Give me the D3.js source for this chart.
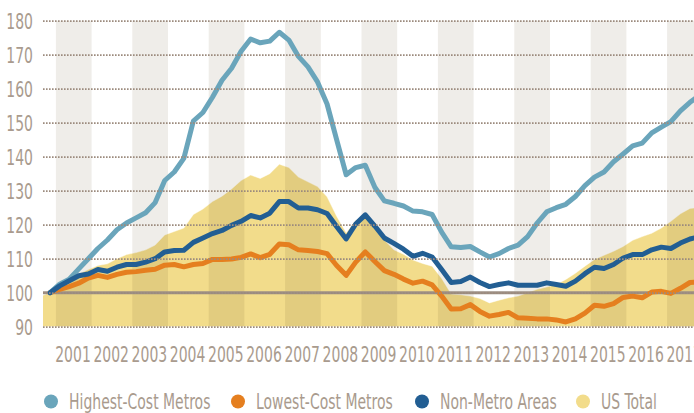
<!DOCTYPE html>
<html>
<head>
<meta charset="utf-8">
<style>
  body { margin: 0; background: #fff; }
  svg { display: block; }
  .lbl { font-family: "Liberation Sans Narrow", "Arial Narrow", "DejaVu Sans Condensed", sans-serif; fill: #a99b8e; }
  .grid line { stroke: #9c8b7e; stroke-width: 1.8; stroke-dasharray: 1.6 1.4; }
  .series { fill: none; stroke-width: 5; stroke-linejoin: round; stroke-linecap: round; }
</style>
</head>
<body>
<svg></svg>
<script src="https://cdn.jsdelivr.net/npm/d3@7"></script>
<script>
// quarterly index values, 2000 Q4 = 100
const years = [2001, 2002, 2003, 2004, 2005, 2006, 2007, 2008, 2009, 2010, 2011, 2012, 2013, 2014, 2015, 2016, 2017];
const yTicks = [90, 100, 110, 120, 130, 140, 150, 160, 170, 180];
const firstQuarter = 2000.875; // middle of 2000 Q4

const highestCost = [100, 102.5, 104, 107, 110, 113, 115.5, 118.5, 120.5, 122, 123.5, 126.5, 133, 135.5, 139.5, 150.5,
  153, 157.5, 162.5, 166, 171, 174.6, 173.5, 174, 176.6, 174.3, 169.5, 166.4, 162, 155.5, 145, 134.7,
  136.8, 137.5, 131, 127, 126.3, 125.5, 124, 123.8, 123, 117.8, 113.5, 113.3, 113.6, 112, 110.5, 111.5,
  113, 114, 116.5, 120.5, 123.8, 125, 126, 128.3, 131.5, 134, 135.5, 138.5, 140.8, 143.2, 144, 147,
  148.7, 150.3, 153.5, 156, 158];
const lowestCost = [100, 101, 101.8, 102.8, 104.3, 105.1, 104.5, 105.4, 106, 106.2, 106.6, 106.9, 108.1, 108.3, 107.6, 108.3,
  108.6, 109.8, 109.8, 109.9, 110.4, 111.4, 110.3, 111.3, 114.3, 114.1, 112.6, 112.4, 112.1, 111.5, 108, 105.1,
  109, 112, 109.2, 106.5, 105.4, 104, 102.8, 103.4, 102.3, 99, 95.2, 95.3, 96.5, 94.5, 93.1, 93.6,
  94.2, 92.6, 92.5, 92.3, 92.3, 92, 91.4, 92.3, 94, 96.3, 96, 96.8, 98.6, 99, 98.5, 100.2,
  100.4, 99.8, 101.3, 103, 103.2];
const nonMetro = [100, 102, 103.5, 105, 105.5, 106.8, 106.3, 107.5, 108.3, 108.3, 109, 110, 112, 112.4, 112.5, 114.8,
  116.1, 117.4, 118.3, 119.8, 121, 122.7, 122, 123.4, 126.8, 126.8, 124.9, 124.9, 124.4, 123.3, 119.5, 115.8,
  120.2, 122.9, 119.6, 116.1, 114.5, 112.8, 110.7, 111.6, 110.5, 106.8, 103, 103.3, 104.6, 103, 101.8, 102.4,
  102.9, 102.2, 102.2, 102.2, 102.9, 102.4, 101.9, 103.4, 105.6, 107.5, 107.1, 108.3, 110.2, 111.2, 111.2, 112.6,
  113.4, 113, 114.6, 115.8, 116.5];
// US total starts one quarter earlier (2000 Q3)
const usTotal = [99, 100, 101.8, 103.8, 105.5, 106.8, 108, 108.5, 110, 111.2, 111.8, 112.6, 114, 117, 118, 119, 123,
  124.6, 126.8, 128.4, 130.5, 133, 134.6, 133.6, 135, 137.8, 136.8, 134, 132.6, 131.2, 128.2, 122.5, 117.6,
  121.3, 122.4, 118.7, 115.5, 112.6, 111.3, 109.6, 108.6, 107.8, 104.2, 99.6, 99.4, 99, 98.3, 97, 97.8,
  98.5, 99, 100, 101, 101.7, 102.4, 103.9, 105.7, 107.8, 109.8, 111, 112.2, 113.6, 115.4, 116.5, 117.5,
  119, 121, 123.2, 124.8, 125];

const seriesNames = ["Highest-Cost Metros", "Lowest-Cost Metros", "Non-Metro Areas", "US Total"];
const seriesColors = ["#6aa5bb", "#e57f1f", "#225e93", "#f2dc8b"];

const W = 694, H = 413;
const plot = { left: 43, right: 694, top: 20.7, bottom: 326.7 };
const squeeze = 0.74;

const svg = d3.select("svg").attr("width", W).attr("height", H);

const x = d3.scaleLinear().domain([2001.5, 2017.5]).range([74, 685.2]);
const y = d3.scaleLinear().domain([90, 180]).range([plot.bottom, plot.top]);

const toPoints = (vals, start) => vals.map((v, i) => ({ t: start + i * 0.25, v: v }));

svg.append("defs").append("clipPath").attr("id", "clip")
  .append("rect")
  .attr("x", plot.left).attr("y", 0)
  .attr("width", plot.right - plot.left).attr("height", plot.bottom);

const g = svg.append("g").attr("clip-path", "url(#clip)");

// US total area
const area = d3.area()
  .x(d => x(d.t))
  .y0(y(90))
  .y1(d => y(d.v));
g.append("path")
  .datum(toPoints(usTotal, firstQuarter - 0.25))
  .attr("d", area)
  .attr("fill", seriesColors[3])
  .attr("stroke", "rgba(255,255,255,0.45)")
  .attr("stroke-width", 1);

// alternating year bands
g.selectAll(".band")
  .data(years.filter(yr => yr % 2 === 1))
  .enter()
  .append("rect")
  .attr("class", "band")
  .attr("x", d => x(d) + 1)
  .attr("width", d => x(d + 1) - x(d) - 2.5)
  .attr("y", plot.top)
  .attr("height", plot.bottom - plot.top)
  .attr("fill", "#efede9")
  .style("mix-blend-mode", "multiply");

// dotted grid + y labels
const yAxis = svg.append("g")
  .attr("class", "grid")
  .attr("transform", `translate(${plot.left},0)`)
  .call(d3.axisLeft(y).tickValues(yTicks).tickSize(-(plot.right - plot.left)).tickPadding(0));
yAxis.select(".domain").remove();
yAxis.selectAll("text")
  .attr("class", "lbl")
  .style("font-size", "21px")
  .attr("dy", "0.36em")
  .attr("x", -10 / squeeze)
  .attr("transform", `scale(${squeeze},1)`);

// baseline at 100
g.append("line")
  .attr("x1", plot.left).attr("x2", plot.right)
  .attr("y1", y(100)).attr("y2", y(100))
  .attr("stroke", "#9d8f84")
  .attr("stroke-width", 3);

// series lines
const line = d3.line().x(d => x(d.t)).y(d => y(d.v));
[[lowestCost, 1], [highestCost, 0], [nonMetro, 2]].forEach(([vals, k]) => {
  g.append("path")
    .datum(toPoints(vals, firstQuarter))
    .attr("class", "series")
    .attr("stroke", seriesColors[k])
    .attr("d", line);
});

// year labels
svg.selectAll(".year")
  .data(years)
  .enter()
  .append("text")
  .attr("class", "lbl year")
  .style("font-size", "21px")
  .attr("text-anchor", "middle")
  .attr("transform", d => `translate(${x(d + 0.5) - 1},361.5) scale(${squeeze},1)`)
  .text(d => d);

// legend
const legendX = [51, 238, 422, 583];
const legend = svg.selectAll(".legend")
  .data(seriesNames)
  .enter()
  .append("g")
  .attr("class", "legend")
  .attr("transform", (d, i) => `translate(${legendX[i]},401.5)`);
legend.append("circle")
  .attr("r", 7)
  .attr("fill", (d, i) => seriesColors[i]);
legend.append("text")
  .attr("class", "lbl")
  .style("font-size", "21px")
  .attr("transform", `translate(18,7.5) scale(${squeeze},1)`)
  .text(d => d);
</script>
</body>
</html>
